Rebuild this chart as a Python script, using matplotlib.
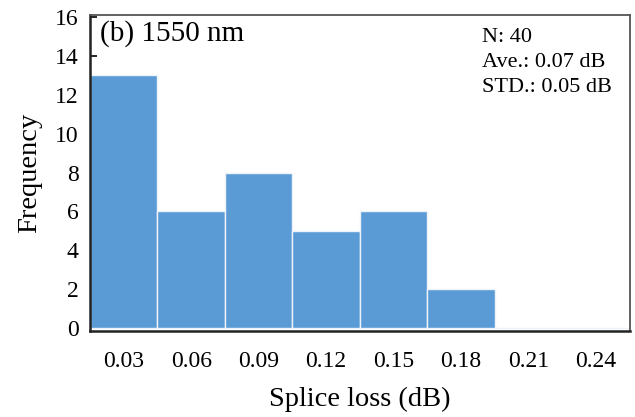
import matplotlib.pyplot as plt

# splice loss histogram at 1550 nm
bin_centers = [0.03, 0.06, 0.09, 0.12, 0.15, 0.18, 0.21, 0.24]
counts = [13, 6, 8, 5, 6, 2, 0, 0]
tick_labels = ["0.03", "0.06", "0.09", "0.12", "0.15", "0.18", "0.21", "0.24"]
stats = ["N: 40", "Ave.: 0.07 dB", "STD.: 0.05 dB"]


def plot_hist():
    plt.rcParams["font.family"] = ["Liberation Serif", "DejaVu Serif"]
    fig = plt.figure(figsize=(6.35, 4.17), dpi=100)
    ax = fig.add_axes([0.1417, 0.206, 0.850, 0.758])

    ax.bar(bin_centers, counts, width=0.03, color="#5B9BD5",
           edgecolor="#eef3fa", linewidth=1.0, zorder=2)

    ax.set_xlim(0.015, 0.255)
    ax.set_ylim(-0.15, 16.1)
    ax.set_xticks(bin_centers)
    ax.set_xticklabels(tick_labels)
    ax.set_yticks(range(0, 17, 2))
    ax.tick_params(axis="x", length=0, pad=14, labelsize=17)
    ax.tick_params(axis="y", direction="in", length=5, width=1.2,
                   pad=8, labelsize=17)

    for side in ("left", "bottom"):
        ax.spines[side].set_linewidth(1.8)
        ax.spines[side].set_color("#222222")
    for side in ("top", "right"):
        ax.spines[side].set_linewidth(1.3)
        ax.spines[side].set_color("#555555")

    ax.set_xlabel("Splice loss (dB)", fontsize=20.5, labelpad=11)
    ax.set_ylabel("Frequency", fontsize=20.5, labelpad=9)

    ax.text(0.018, 0.985, "(b) 1550 nm", transform=ax.transAxes,
            fontsize=21, va="top", ha="left")
    ax.text(0.727, 0.96, "\n".join(stats), transform=ax.transAxes,
            fontsize=16, va="top", ha="left", linespacing=1.45)

    fig.savefig("out.png", dpi=100)


if __name__ == "__main__":
    plot_hist()
